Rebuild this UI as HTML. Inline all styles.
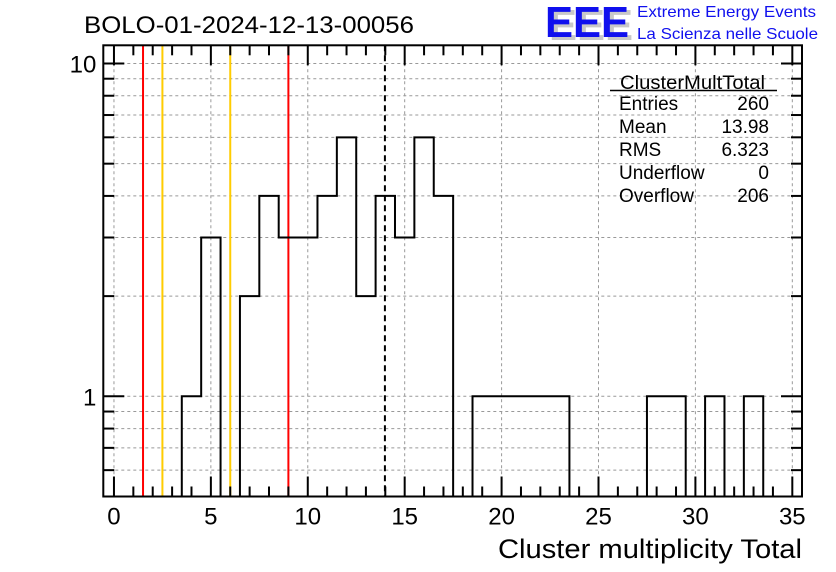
<!DOCTYPE html>
<html><head><meta charset="utf-8"><style>
body{margin:0;background:#fff;}
svg{display:block;font-family:"Liberation Sans",Arial,sans-serif;}
</style></head><body>
<svg id="c" width="836" height="572" viewBox="0 0 836 572" xmlns="http://www.w3.org/2000/svg">
<rect width="836" height="572" fill="#fff"/>
<g id="grid"></g>
<g id="vlines"></g>
<g id="hist"></g>
<g id="axes"></g>
<text x="84" y="33" font-size="24" textLength="330" lengthAdjust="spacingAndGlyphs">BOLO-01-2024-12-13-00056</text>
<text x="802" y="558" font-size="27" text-anchor="end" textLength="304" lengthAdjust="spacingAndGlyphs">Cluster multiplicity Total</text>
<g>
<text x="549" y="40" font-size="44" font-weight="bold" fill="#c8c8c8" textLength="84" lengthAdjust="spacingAndGlyphs">EEE</text>
<text x="545" y="37" font-size="44" font-weight="bold" fill="#1010ee" textLength="84" lengthAdjust="spacingAndGlyphs">EEE</text>
<text x="637" y="17" font-size="16" fill="#1010ee" textLength="179" lengthAdjust="spacingAndGlyphs">Extreme Energy Events</text>
<text x="637" y="39" font-size="16" fill="#1010ee" textLength="181" lengthAdjust="spacingAndGlyphs">La Scienza nelle Scuole</text>
</g>
<g font-size="19">
<text x="620" y="89" textLength="145" lengthAdjust="spacingAndGlyphs">ClusterMultTotal</text>
<line x1="610" y1="90.5" x2="777" y2="90.5" stroke="#000" stroke-width="1.5"/>
<text x="619" y="110">Entries</text><text x="769" y="110" text-anchor="end">260</text>
<text x="619" y="133">Mean</text><text x="769" y="133" text-anchor="end">13.98</text>
<text x="619" y="156">RMS</text><text x="769" y="156" text-anchor="end">6.323</text>
<text x="619" y="179">Underflow</text><text x="769" y="179" text-anchor="end">0</text>
<text x="619" y="202">Overflow</text><text x="769" y="202" text-anchor="end">206</text>
</g>
</svg>
<script>
const binCenters=[0,1,2,3,4,5,6,7,8,9,10,11,12,13,14,15,16,17,18,19,20,21,22,23,24,25,26,27,28,29,30,31,32,33,34,35];
const binCounts=[0,0,0,0,1,3,0,2,4,3,3,4,6,2,4,3,6,4,0,1,1,1,1,1,0,0,0,0,1,1,0,1,0,1,0,0];
const xTickLabels=[0,5,10,15,20,25,30,35];
const yMajorTicks=[1,10];
const yMinorTicks=[0.6,0.7,0.8,0.9,2,3,4,5,6,7,8,9];
const redLines=[1.5,9];
const orangeLines=[2.5,6];
const meanLine=[13.98];
const L=103.3,R=802,T=45.3,B=496.5,xmin=-0.55,xmax=35.5,ymin=0.5,ymax=11.34;
const NS="http://www.w3.org/2000/svg";
const X=v=>L+(v-xmin)/(xmax-xmin)*(R-L);
const Y=v=>B-(Math.log10(Math.max(v,ymin))-Math.log10(ymin))/(Math.log10(ymax)-Math.log10(ymin))*(B-T);
function mk(tag,attrs,parent){const e=document.createElementNS(NS,tag);for(const k in attrs)e.setAttribute(k,attrs[k]);document.getElementById(parent).appendChild(e);return e;}
xTickLabels.forEach(v=>{const e=mk('line',{x1:X(v),x2:X(v),y1:T,y2:B,stroke:'#999','stroke-dasharray':'3,3','stroke-width':1},'grid');

});
yMajorTicks.concat(yMinorTicks).forEach(v=>{const e=mk('line',{x1:L,x2:R,y1:Y(v),y2:Y(v),stroke:'#999','stroke-dasharray':'3,3','stroke-width':1},'grid');

});
function vl(vals,col,dash,name){vals.forEach(v=>{const e=mk('line',{x1:X(v),x2:X(v),y1:T,y2:B,stroke:col,'stroke-width':2},'vlines');if(dash)e.setAttribute('stroke-dasharray',dash);

});}
vl(redLines,'#f00',null,'red-line');
vl(orangeLines,'#fc0',null,'orange-line');
vl(meanLine,'#000','6,4','mean-line');
let d='M'+X(binCenters[0]-0.5)+','+B;
binCenters.forEach((c,i)=>{const y=Y(binCounts[i]);d+=' L'+X(c-0.5)+','+y+' L'+X(c+0.5)+','+y;});
d+=' L'+X(binCenters[binCenters.length-1]+0.5)+','+B;
const h=mk('path',{d:d,fill:'none',stroke:'#000','stroke-width':2},'hist');


const f=mk('rect',{x:L,y:T,width:R-L,height:B-T,fill:'none',stroke:'#000','stroke-width':2},'axes');


for(let v=0;v<=35;v++){const maj=v%5===0,len=maj?20:10;
mk('line',{x1:X(v),x2:X(v),y1:B,y2:B-len,stroke:'#000','stroke-width':2},'axes');
mk('line',{x1:X(v),x2:X(v),y1:T,y2:T+len,stroke:'#000','stroke-width':2},'axes');}
xTickLabels.forEach(v=>{const t=mk('text',{x:X(v),y:B+28,'font-size':24,'text-anchor':'middle'},'axes');t.textContent=v;

});
yMajorTicks.forEach(v=>{mk('line',{x1:L,x2:L+21,y1:Y(v),y2:Y(v),stroke:'#000','stroke-width':2},'axes');
mk('line',{x1:R,x2:R-21,y1:Y(v),y2:Y(v),stroke:'#000','stroke-width':2},'axes');
const t=mk('text',{x:L-7,y:Y(v)+9,'font-size':24,'text-anchor':'end'},'axes');t.textContent=v;

});
yMinorTicks.forEach(v=>{mk('line',{x1:L,x2:L+11,y1:Y(v),y2:Y(v),stroke:'#000','stroke-width':2},'axes');
mk('line',{x1:R,x2:R-11,y1:Y(v),y2:Y(v),stroke:'#000','stroke-width':2},'axes');});
</script>
</body></html>
